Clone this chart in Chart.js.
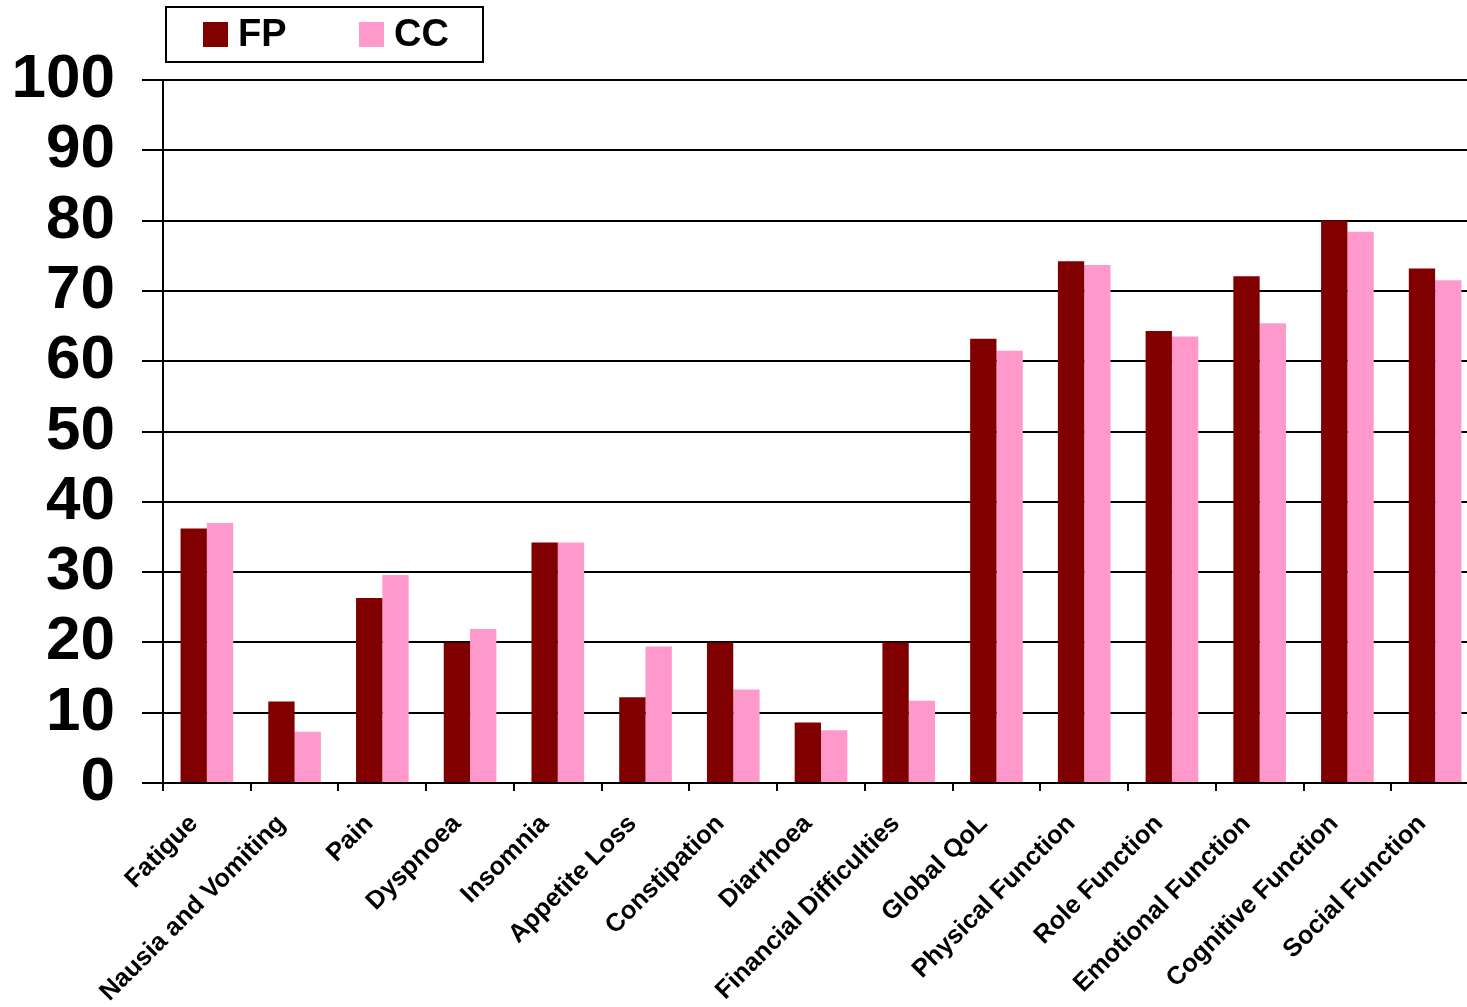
<!DOCTYPE html>
<html>
<head>
<meta charset="utf-8">
<title>FP vs CC – QoL scores</title>
<script src="https://cdn.jsdelivr.net/npm/chart.js@4/dist/chart.umd.min.js"></script>
<style>
  html, body { margin: 0; padding: 0; background: #fff; overflow: hidden; }
  #wrap { width: 1467px; height: 1007px; overflow: hidden; }
  canvas { display: block; }
</style>
</head>
<body>
<div id="wrap"><canvas id="chart" width="1479" height="1007"></canvas></div>
<script>
const categories = [
  'Fatigue', 'Nausia and Vomiting', 'Pain', 'Dyspnoea', 'Insomnia',
  'Appetite Loss', 'Constipation', 'Diarrhoea', 'Financial Difficulties',
  'Global QoL', 'Physical Function', 'Role Function', 'Emotional Function',
  'Cognitive Function', 'Social Function'
];
const fpValues = [36.2, 11.6, 26.3, 20.0, 34.2, 12.2, 20.0, 8.6, 20.0, 63.2, 74.2, 64.3, 72.1, 80.0, 73.2];
const ccValues = [37.0, 7.3, 29.6, 21.9, 34.2, 19.4, 13.3, 7.5, 11.7, 61.5, 73.7, 63.5, 65.4, 78.4, 71.5];
const yTickValues = [0, 10, 20, 30, 40, 50, 60, 70, 80, 90, 100];

const FONT = '"Liberation Sans", Arial, Helvetica, sans-serif';

// Boxed legend drawn in the top-left corner
const boxedLegend = {
  id: 'boxedLegend',
  afterDraw(chart) {
    const ctx = chart.ctx;
    const box = { x: 166, y: 7, w: 317, h: 55 };
    ctx.save();
    ctx.strokeStyle = '#000';
    ctx.lineWidth = 2;
    ctx.strokeRect(box.x, box.y, box.w, box.h);
    ctx.font = 'bold 38px ' + FONT;
    ctx.textBaseline = 'middle';
    ctx.textAlign = 'left';
    const starts = [203, 359];
    chart.data.datasets.forEach((ds, i) => {
      const sx = starts[i];
      ctx.fillStyle = ds.backgroundColor;
      ctx.fillRect(sx, 22, 25, 25);
      ctx.fillStyle = '#000';
      ctx.fillText(ds.label, sx + 35, 36);
    });
    ctx.restore();
  }
};

new Chart(document.getElementById('chart'), {
  type: 'bar',
  data: {
    labels: categories,
    datasets: [
      { label: 'FP', data: fpValues, backgroundColor: '#800000', borderWidth: 0 },
      { label: 'CC', data: ccValues, backgroundColor: '#FF99CC', borderWidth: 0 }
    ]
  },
  options: {
    responsive: false,
    animation: false,
    devicePixelRatio: 1,
    layout: { padding: { top: 80, left: 0, right: 0, bottom: 0 } },
    datasets: { bar: { categoryPercentage: 0.6, barPercentage: 1.0 } },
    plugins: {
      legend: { display: false },
      tooltip: { enabled: false }
    },
    scales: {
      x: {
        offset: true,
        afterFit(scale) { scale.height = 224; },
        grid: {
          offset: true,
          drawOnChartArea: false,
          drawTicks: true,
          tickLength: 8,
          color: '#000',
          lineWidth: 2
        },
        border: { display: true, color: '#000', width: 2 },
        ticks: {
          autoSkip: false,
          maxRotation: 45,
          minRotation: 45,
          padding: 18,
          labelOffset: -13,
          color: '#000',
          font: { family: FONT, size: 25.5, weight: 'bold' }
        }
      },
      y: {
        min: 0,
        max: 100,
        afterFit(scale) { scale.width = 163; },
        afterBuildTicks(scale) { scale.ticks = yTickValues.map(v => ({ value: v })); },
        grid: {
          color: '#000',
          lineWidth: 2,
          tickLength: 21,
          drawTicks: true
        },
        border: { display: true, color: '#000', width: 2 },
        ticks: {
          autoSkip: false,
          padding: 27,
          color: '#000',
          font: { family: FONT, size: 62, weight: 'bold' }
        }
      }
    }
  },
  plugins: [boxedLegend]
});
</script>
</body>
</html>
